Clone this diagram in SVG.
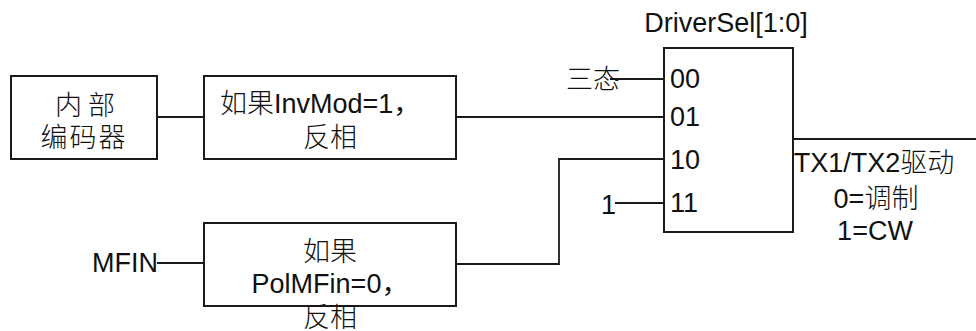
<svg xmlns="http://www.w3.org/2000/svg" width="976" height="331" viewBox="0 0 976 331">
<style>
.box{fill:#fff;stroke:#1a1a1a;stroke-width:2}
.ln{fill:none;stroke:#1a1a1a;stroke-width:1.8}
text{font-family:"Liberation Sans","Noto Sans CJK SC",sans-serif;font-size:27px;fill:#111}
.c{text-anchor:middle}
.cj{font-weight:300}
</style>
<rect width="976" height="331" fill="#fff"/>
<g id="connectors">
<polyline class="ln" points="157,117 204,117"/>
<polyline class="ln" points="456,117 664,117"/>
<polyline class="ln" points="610,79 664,79"/>
<polyline class="ln" points="615,203 664,203"/>
<polyline class="ln" points="157,263 204,263"/>
<polyline class="ln" points="456,264 559,264 559,159 664,159"/>
<polyline class="ln" points="793,139 976,139"/>
</g>
<g id="encoder">
<rect class="box" x="11" y="76" width="146" height="83"/>
<text class="c cj" x="88" y="115" letter-spacing="6">内部</text>
<text class="c cj" x="84" y="147" letter-spacing="2">编码器</text>
</g>
<g id="invmod">
<rect class="box" x="204" y="76" width="252" height="83"/>
<text x="220" y="113"><tspan class="cj">如果</tspan>InvMod=1，</text>
<text class="c cj" x="330" y="147">反相</text>
</g>
<g id="polmfin">
<rect class="box" x="204" y="223" width="252" height="83"/>
<text class="c cj" x="330" y="261">如果</text>
<text class="c" x="330" y="293">PolMFin=0，</text>
<text class="c cj" x="330" y="327">反相</text>
</g>
<g id="mfin">
<text x="92" y="272">MFIN</text>
</g>
<g id="tristate">
<text class="cj" x="566" y="89">三态</text>
</g>
<g id="one">
<text x="601" y="214">1</text>
</g>
<g id="mux">
<text class="c" x="726" y="32">DriverSel[1:0]</text>
<rect class="box" x="664" y="48" width="129" height="184"/>
<text x="670" y="88">00</text>
<text x="670" y="126">01</text>
<text x="670" y="169">10</text>
<text x="670" y="212">11</text>
</g>
<g id="output">
<text class="c" x="874" y="172">TX1/TX2<tspan class="cj">驱动</tspan></text>
<text class="c" x="876" y="208">0=<tspan class="cj">调制</tspan></text>
<text class="c" x="875" y="240">1=CW</text>
</g>
</svg>
